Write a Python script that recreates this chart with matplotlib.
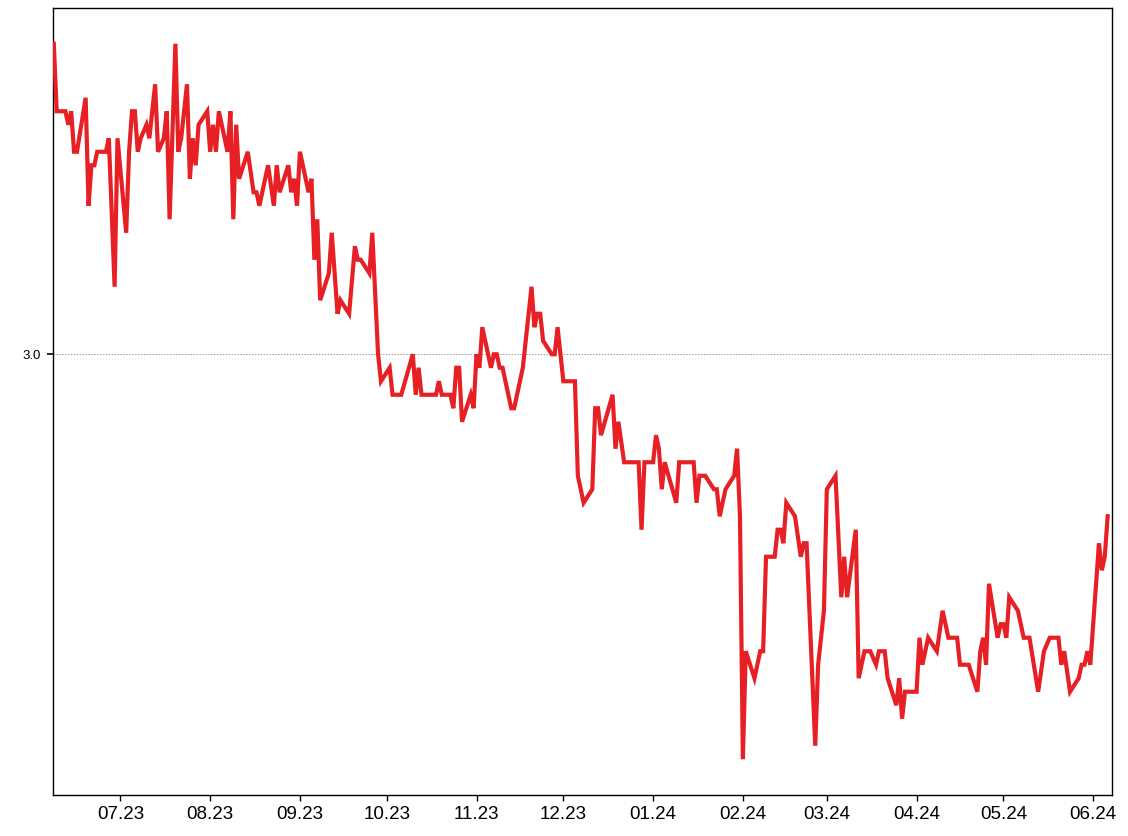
import matplotlib
matplotlib.use("Agg")
import matplotlib.pyplot as plt
import matplotlib.dates as mdates
import matplotlib.ticker as mticker
import pandas as pd

plt.rcParams["font.family"] = ["Liberation Sans", "DejaVu Sans"]

dates = [
    "2023-06-08", "2023-06-09", "2023-06-12", "2023-06-13", "2023-06-14", "2023-06-15", "2023-06-16",
    "2023-06-19", "2023-06-20", "2023-06-21", "2023-06-22", "2023-06-23", "2023-06-26", "2023-06-27",
    "2023-06-29", "2023-06-30", "2023-07-03", "2023-07-04", "2023-07-05", "2023-07-06", "2023-07-07",
    "2023-07-08", "2023-07-10", "2023-07-11", "2023-07-13", "2023-07-14", "2023-07-16", "2023-07-17",
    "2023-07-18", "2023-07-20", "2023-07-21", "2023-07-22", "2023-07-24", "2023-07-25", "2023-07-26",
    "2023-07-27", "2023-07-28", "2023-07-31", "2023-08-01", "2023-08-02", "2023-08-03", "2023-08-04",
    "2023-08-07", "2023-08-08", "2023-08-09", "2023-08-10", "2023-08-11", "2023-08-14", "2023-08-16",
    "2023-08-17", "2023-08-18", "2023-08-21", "2023-08-23", "2023-08-24", "2023-08-25", "2023-08-28",
    "2023-08-29", "2023-08-30", "2023-08-31", "2023-09-01", "2023-09-04", "2023-09-05", "2023-09-06",
    "2023-09-07", "2023-09-08", "2023-09-11", "2023-09-12", "2023-09-14", "2023-09-15", "2023-09-18",
    "2023-09-20", "2023-09-21", "2023-09-22", "2023-09-25", "2023-09-26", "2023-09-28", "2023-09-29",
    "2023-10-02", "2023-10-03", "2023-10-06", "2023-10-10", "2023-10-11", "2023-10-12", "2023-10-13",
    "2023-10-18", "2023-10-19", "2023-10-20", "2023-10-23", "2023-10-24", "2023-10-25", "2023-10-26",
    "2023-10-27", "2023-10-30", "2023-10-31", "2023-11-01", "2023-11-02", "2023-11-03", "2023-11-06",
    "2023-11-07", "2023-11-08", "2023-11-09", "2023-11-10", "2023-11-13", "2023-11-14", "2023-11-17",
    "2023-11-18", "2023-11-20", "2023-11-21", "2023-11-22", "2023-11-23", "2023-11-24", "2023-11-27",
    "2023-11-28", "2023-11-29", "2023-12-01", "2023-12-05", "2023-12-06", "2023-12-08", "2023-12-11",
    "2023-12-12", "2023-12-13", "2023-12-14", "2023-12-18", "2023-12-19", "2023-12-20", "2023-12-22",
    "2023-12-27", "2023-12-28", "2023-12-29", "2024-01-01", "2024-01-02", "2024-01-03", "2024-01-04",
    "2024-01-05", "2024-01-09", "2024-01-10", "2024-01-15", "2024-01-16", "2024-01-17", "2024-01-19",
    "2024-01-22", "2024-01-23", "2024-01-24", "2024-01-26", "2024-01-29", "2024-01-30", "2024-01-31",
    "2024-02-01", "2024-02-02", "2024-02-05", "2024-02-07", "2024-02-08", "2024-02-09", "2024-02-12",
    "2024-02-13", "2024-02-14", "2024-02-15", "2024-02-16", "2024-02-19", "2024-02-21", "2024-02-22",
    "2024-02-23", "2024-02-26", "2024-02-27", "2024-02-29", "2024-03-01", "2024-03-04", "2024-03-06",
    "2024-03-07", "2024-03-08", "2024-03-11", "2024-03-12", "2024-03-14", "2024-03-16", "2024-03-18",
    "2024-03-19", "2024-03-21", "2024-03-22", "2024-03-25", "2024-03-26", "2024-03-27", "2024-03-28",
    "2024-04-01", "2024-04-02", "2024-04-03", "2024-04-05", "2024-04-08", "2024-04-10", "2024-04-12",
    "2024-04-15", "2024-04-16", "2024-04-19", "2024-04-22", "2024-04-23", "2024-04-24", "2024-04-25",
    "2024-04-26", "2024-04-29", "2024-04-30", "2024-05-01", "2024-05-02", "2024-05-03", "2024-05-06",
    "2024-05-08", "2024-05-10", "2024-05-13", "2024-05-15", "2024-05-17", "2024-05-20", "2024-05-21",
    "2024-05-22", "2024-05-24", "2024-05-27", "2024-05-28", "2024-05-29", "2024-05-30", "2024-05-31",
    "2024-06-03", "2024-06-04", "2024-06-05", "2024-06-06",
]

values = [
    3.23, 3.18, 3.18, 3.17, 3.18, 3.15, 3.15,
    3.19, 3.11, 3.14, 3.14, 3.15, 3.15, 3.16,
    3.05, 3.16, 3.09, 3.15, 3.18, 3.18, 3.15,
    3.16, 3.17, 3.16, 3.20, 3.15, 3.16, 3.18,
    3.10, 3.23, 3.15, 3.16, 3.20, 3.13, 3.16,
    3.14, 3.17, 3.18, 3.15, 3.17, 3.15, 3.18,
    3.15, 3.18, 3.10, 3.17, 3.13, 3.15, 3.12,
    3.12, 3.11, 3.14, 3.11, 3.14, 3.12, 3.14,
    3.12, 3.13, 3.11, 3.15, 3.12, 3.13, 3.07,
    3.10, 3.04, 3.06, 3.09, 3.03, 3.04, 3.03,
    3.08, 3.07, 3.07, 3.06, 3.09, 3.00, 2.98,
    2.99, 2.97, 2.97, 3.00, 2.97, 2.99, 2.97,
    2.97, 2.98, 2.97, 2.97, 2.96, 2.99, 2.99,
    2.95, 2.97, 2.96, 3.00, 2.99, 3.02, 2.99,
    3.00, 3.00, 2.99, 2.99, 2.96, 2.96, 2.99,
    3.01, 3.05, 3.02, 3.03, 3.03, 3.01, 3.00,
    3.00, 3.02, 2.98, 2.98, 2.91, 2.89, 2.90,
    2.96, 2.96, 2.94, 2.97, 2.93, 2.95, 2.92,
    2.92, 2.87, 2.92, 2.92, 2.94, 2.93, 2.90,
    2.92, 2.89, 2.92, 2.92, 2.89, 2.91, 2.91,
    2.90, 2.90, 2.88, 2.90, 2.91, 2.93, 2.88,
    2.70, 2.78, 2.76, 2.78, 2.78, 2.85, 2.85,
    2.87, 2.87, 2.86, 2.89, 2.88, 2.85, 2.86,
    2.86, 2.71, 2.77, 2.81, 2.90, 2.91, 2.82,
    2.85, 2.82, 2.87, 2.76, 2.78, 2.78, 2.77,
    2.78, 2.78, 2.76, 2.74, 2.76, 2.73, 2.75,
    2.75, 2.79, 2.77, 2.79, 2.78, 2.81, 2.79,
    2.79, 2.77, 2.77, 2.75, 2.78, 2.79, 2.77,
    2.83, 2.79, 2.80, 2.80, 2.79, 2.82, 2.81,
    2.79, 2.79, 2.75, 2.78, 2.79, 2.79, 2.77,
    2.78, 2.75, 2.76, 2.77, 2.77, 2.78, 2.77,
    2.86, 2.84, 2.85, 2.88,
]

y_ticks = [3.0]
x_start = "2023-06-07 14:00"
x_end = "2024-06-07 12:00"

W, H = 1128, 836
fig = plt.figure(figsize=(W / 100, H / 100), dpi=100)
ax = fig.add_axes([52.6 / W, 1 - 795 / H, (1112 - 52.6) / W, (795 - 8) / H])

x = pd.to_datetime(dates)
ax.plot(x, values, color="#e62024", lw=3.0, solid_joinstyle="miter", zorder=3)

ax.set_xlim(pd.Timestamp(x_start), pd.Timestamp(x_end))
ax.margins(y=0.05)

ax.set_yticks(y_ticks)
ax.yaxis.set_major_formatter(mticker.FormatStrFormatter("%.1f"))
ax.yaxis.grid(True, linestyle=(0, (1.5, 1.5)), color="#9a9a9a", lw=0.7)

ax.xaxis.set_major_locator(mdates.MonthLocator())
ax.xaxis.set_major_formatter(mdates.DateFormatter("%m.%y"))

ax.tick_params(axis="x", labelsize=13.5, length=4, width=1, pad=4, colors="black")
ax.tick_params(axis="y", labelsize=9.5, length=4, width=1.2, pad=4.5, colors="black")
for s in ax.spines.values():
    s.set_linewidth(1.0)
    s.set_color("black")

fig.savefig("out.png", dpi=100, facecolor="white")
